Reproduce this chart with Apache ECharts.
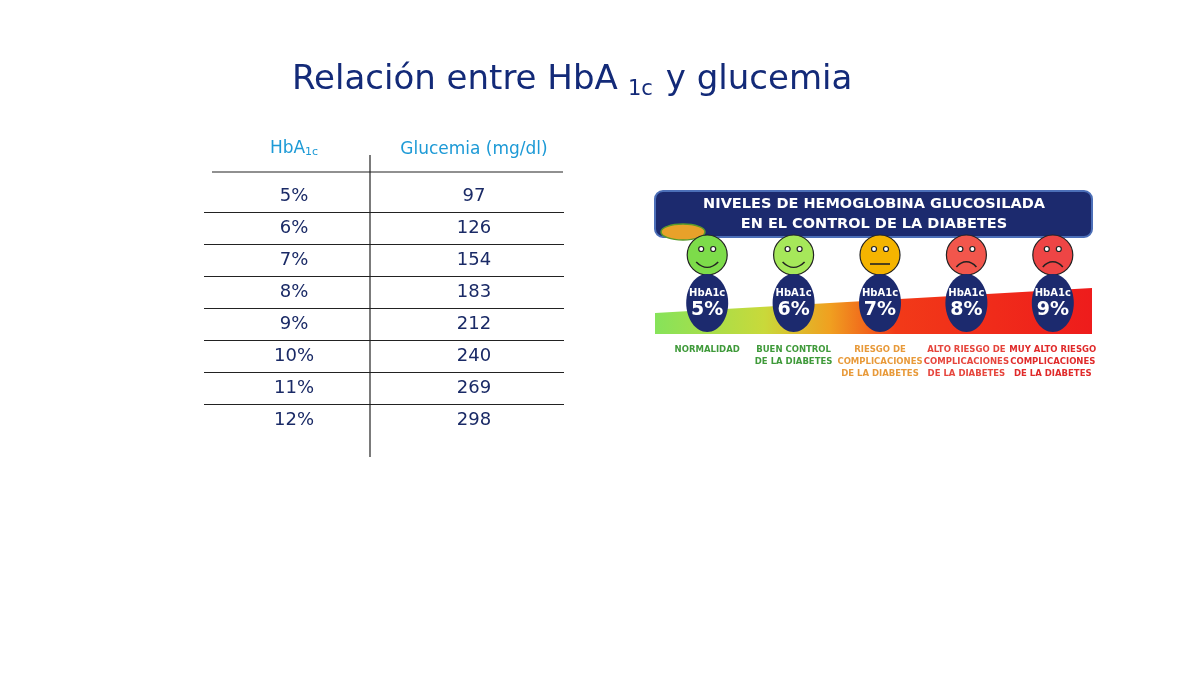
<!DOCTYPE html>
<html><head><meta charset="utf-8">
<script src="https://cdn.jsdelivr.net/npm/echarts@6/dist/echarts.min.js"></script>
<style>html,body{margin:0;background:#fff}#c{width:1200px;height:675px}</style>
</head><body><div id="c"></div>
<script>
const hba1cRows = ['5%','6%','7%','8%','9%','10%','11%','12%'];
const glucemia = [97,126,154,183,212,240,269,298];
const levels = ['5%','6%','7%','8%','9%'];
const levelTexts = ['NORMALIDAD','BUEN CONTROL\nDE LA DIABETES','RIESGO DE\nCOMPLICACIONES\nDE LA DIABETES','ALTO RIESGO DE\nCOMPLICACIONES\nDE LA DIABETES','MUY ALTO RIESGO\nCOMPLICACIONES\nDE LA DIABETES'];
const faceColors = ['#7ddc4a','#a6e85a','#f5b400','#f2564c','#ee4545'];
const textColors = ['#3f9a3a','#3f9a3a','#e89a3a','#e6453c','#e02a2a'];
const mood = [1,1,0,-1,-1];

const chart = echarts.init(document.getElementById('c'));
const F = 'DejaVu Sans';
const tableData = [];
hba1cRows.forEach((r,i)=>{ tableData.push({value:[0,i],label:{formatter:r}}); tableData.push({value:[1,i],label:{formatter:String(glucemia[i])}}); });

chart.setOption({
  backgroundColor:'#fff',
  animation:false,
  grid:[{left:204,top:180,width:360,height:256},{left:664,top:240,width:432,height:100}],
  xAxis:[
    {gridIndex:0,type:'category',data:['HbA1c','Glucemia (mg/dl)'],position:'top',boundaryGap:true,
     axisLine:{show:false},axisTick:{show:false},splitLine:{show:false},
     axisLabel:{interval:0,margin:22,fontFamily:F,fontSize:17,color:'#1d9ad6',
       formatter:(v)=>v==='HbA1c'?'{a|HbA}{s|1c}':'{a|'+v+'}',
       rich:{a:{fontFamily:F,fontSize:17,color:'#1d9ad6'},s:{fontFamily:F,fontSize:11,color:'#1d9ad6',padding:[8,0,0,0]}}}},
    {gridIndex:1,type:'category',data:levels,show:false}
  ],
  yAxis:[
    {gridIndex:0,type:'category',data:hba1cRows,inverse:true,boundaryGap:true,
     axisLine:{show:false},axisTick:{show:false},axisLabel:{show:false},
     splitLine:{show:true,interval:0,lineStyle:{color:'#222',width:1.2}}},
    {gridIndex:1,type:'value',min:0,max:1,show:false}
  ],
  graphic:[
    {type:'text',style:{x:292,y:80,text:'Relación entre HbA',fill:'#132a78',font:'normal 34px "DejaVu Sans"',verticalAlign:'middle'},z:5,id:'t1'},
    {type:'text',style:{x:628,y:90,text:'1c',fill:'#132a78',font:'normal 21px "DejaVu Sans"',verticalAlign:'middle'}},
    {type:'text',style:{x:655,y:80,text:' y glucemia',fill:'#132a78',font:'normal 34px "DejaVu Sans"',verticalAlign:'middle'}},
    {type:'line',shape:{x1:212,y1:172,x2:563,y2:172},style:{stroke:'#222',lineWidth:1.2},z:5},
    {type:'rect',shape:{x:200,y:178,width:370,height:4},style:{fill:'#fff'},z:4},
    {type:'rect',shape:{x:200,y:434,width:370,height:4},style:{fill:'#fff'},z:4},
    {type:'line',shape:{x1:370,y1:155,x2:370,y2:457},style:{stroke:'#222',lineWidth:1.2},z:5},
    {type:'rect',shape:{x:655,y:191,width:437,height:46,r:8},style:{fill:'#1c2a6e',stroke:'#4c6fb8',lineWidth:2},z:1},
    {type:'text',style:{x:874,y:204,text:'NIVELES DE HEMOGLOBINA GLUCOSILADA',fill:'#fff',font:'bold 14.5px "DejaVu Sans"',align:'center',verticalAlign:'middle'},z:2},
    {type:'text',style:{x:874,y:224,text:'EN EL CONTROL DE LA DIABETES',fill:'#fff',font:'bold 14.5px "DejaVu Sans"',align:'center',verticalAlign:'middle'},z:2},
    {type:'ellipse',shape:{cx:683,cy:232,rx:22,ry:8},style:{fill:'#e8a12a',stroke:'#5a9a2a',lineWidth:1.5},z:3},
    {type:'polygon',shape:{points:[[655,313],[1092,288],[1092,334],[655,334]]},
     style:{fill:new echarts.graphic.LinearGradient(0,0,1,0,[{offset:0,color:'#86e35a'},{offset:0.25,color:'#c9d93a'},{offset:0.4,color:'#f0a020'},{offset:0.55,color:'#f23a18'},{offset:1,color:'#ee1c1c'}])},z:0}
  ],
  series:[
    {type:'scatter',xAxisIndex:0,yAxisIndex:0,data:tableData,symbolSize:1,silent:true,
     itemStyle:{opacity:0},
     label:{show:true,position:'inside',fontFamily:F,fontSize:18,color:'#1a2a66',opacity:1}},
    {type:'custom',xAxisIndex:1,yAxisIndex:1,silent:true,z:5,
     data:levels.map((l,i)=>[i,0.5]),
     renderItem:(params,api)=>{
       const i=api.value(0); const x=api.coord([i,0.5])[0];
       const fy=255, by=303, m=mood[i];
       const mouthY = fy+7;
       let mouth;
       if(m===1) mouth={type:'bezierCurve',shape:{x1:x-11,y1:mouthY,x2:x+11,y2:mouthY,cpx1:x-4,cpy1:mouthY+7,cpx2:x+4,cpy2:mouthY+7}};
       else if(m===0) mouth={type:'line',shape:{x1:x-10,y1:mouthY+2,x2:x+10,y2:mouthY+2}};
       else mouth={type:'bezierCurve',shape:{x1:x-10,y1:mouthY+5,x2:x+10,y2:mouthY+5,cpx1:x-4,cpy1:mouthY-2,cpx2:x+4,cpy2:mouthY-2}};
       mouth.style={stroke:'#222',lineWidth:1.6,fill:'none'};
       return {type:'group',children:[
         {type:'circle',shape:{cx:x,cy:fy,r:20},style:{fill:faceColors[i],stroke:'#222',lineWidth:1.2}},
         {type:'circle',shape:{cx:x-6,cy:fy-6,r:2.5},style:{fill:'#fff',stroke:'#222',lineWidth:1.2}},
         {type:'circle',shape:{cx:x+6,cy:fy-6,r:2.5},style:{fill:'#fff',stroke:'#222',lineWidth:1.2}},
         mouth,
         {type:'ellipse',shape:{cx:x,cy:by,rx:21,ry:29},style:{fill:'#1c2a6e'}},
         {type:'text',style:{x:x,y:by-10,text:'HbA1c',fill:'#fff',font:'bold 10px "DejaVu Sans"',align:'center',verticalAlign:'middle'}},
         {type:'text',style:{x:x,y:by+7,text:levels[i],fill:'#fff',font:'bold 19px "DejaVu Sans"',align:'center',verticalAlign:'middle'}},
         {type:'text',style:{x:x,y:344,text:levelTexts[i],fill:textColors[i],font:'bold 8.5px "DejaVu Sans"',align:'center',verticalAlign:'top',lineHeight:12}}
       ]};
     }}
  ]
});
</script></body></html>
